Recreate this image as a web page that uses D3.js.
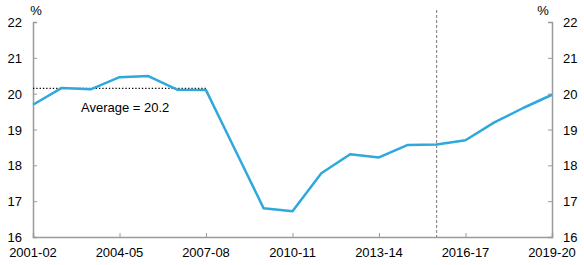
<!DOCTYPE html>
<html>
<head>
<meta charset="utf-8">
<script src="https://cdn.jsdelivr.net/npm/d3@7"></script>
<style>
  body { margin: 0; background: #fff; }
  svg text { font-family: "Liberation Sans", Arial, sans-serif; font-size: 13px; fill: #000; }
</style>
</head>
<body>
<div id="container"></div>
<script>
/* DATA */
const years = ["2001-02","2002-03","2003-04","2004-05","2005-06","2006-07","2007-08","2008-09","2009-10",
  "2010-11","2011-12","2012-13","2013-14","2014-15","2015-16","2016-17","2017-18","2018-19","2019-20"];
const values = [19.69, 20.16, 20.12, 20.46, 20.49, 20.11, 20.1, 18.45, 16.8,
  16.72, 17.78, 18.31, 18.22, 18.57, 18.58, 18.7, 19.2, 19.6, 19.97];
const tickYears = ["2001-02","2004-05","2007-08","2010-11","2013-14","2016-17","2019-20"];
const yTicks = [16, 17, 18, 19, 20, 21, 22];
const avgValue = 20.15;
const avgStart = "2001-02", avgEnd = "2007-08";
const avgLabel = "Average = 20.2";
const forecastStart = "2015-16";

/* CONSTANTS */
const width = 584, height = 265,
  margin = { top: 22, bottom: 28, left: 33, right: 32 };

const svg = d3.select("#container").append("svg")
  .attr("width", width).attr("height", height);

/* SCALES */
const xScale = d3.scalePoint().domain(years).range([margin.left, width - margin.right]);
const yScale = d3.scaleLinear().domain([16, 22]).range([height - margin.bottom, margin.top]);

const axisColor = "#9a9a9a";

// left axis
const yLeft = svg.append("g")
  .attr("transform", `translate(${margin.left},0)`)
  .call(d3.axisRight(yScale).tickValues(yTicks).tickSize(4).tickFormat(""));
// right axis
const yRight = svg.append("g")
  .attr("transform", `translate(${width - margin.right},0)`)
  .call(d3.axisLeft(yScale).tickValues(yTicks).tickSize(4).tickFormat(""));
// bottom axis
const xAx = svg.append("g")
  .attr("transform", `translate(0,${height - margin.bottom})`)
  .call(d3.axisTop(xScale).tickValues(tickYears).tickSize(4).tickFormat(""));

[yLeft, yRight, xAx].forEach(g => {
  g.select(".domain").attr("stroke", axisColor).attr("stroke-width", 1.5);
  g.selectAll(".tick line").attr("stroke", axisColor);
});

// tick labels
svg.selectAll(".ylabL").data(yTicks).join("text")
  .attr("x", margin.left - 11).attr("y", d => yScale(d) + 5)
  .attr("text-anchor", "end").text(d => d);
svg.selectAll(".ylabR").data(yTicks).join("text")
  .attr("x", width - margin.right + 11).attr("y", d => yScale(d) + 5)
  .attr("text-anchor", "start").text(d => d);
svg.selectAll(".xlab").data(tickYears).join("text")
  .attr("x", d => xScale(d)).attr("y", height - 8)
  .attr("text-anchor", "middle").text(d => d);

svg.append("text").attr("x", margin.left + 3).attr("y", 15).attr("text-anchor", "middle").text("%");
svg.append("text").attr("x", width - margin.right - 9).attr("y", 15).attr("text-anchor", "middle").text("%");

// forecast divider
svg.append("line")
  .attr("x1", xScale(forecastStart)).attr("x2", xScale(forecastStart))
  .attr("y1", 10).attr("y2", yScale(16))
  .attr("stroke", "#555").attr("stroke-width", 0.8).attr("stroke-dasharray", "3,2");

// average line
svg.append("line")
  .attr("x1", xScale(avgStart)).attr("x2", xScale(avgEnd))
  .attr("y1", yScale(avgValue)).attr("y2", yScale(avgValue))
  .attr("stroke", "#000").attr("stroke-width", 1.3).attr("stroke-dasharray", "1.3,2");
svg.append("text").attr("x", 81).attr("y", 112).text(avgLabel);

// series line
const line = d3.line().x((d, i) => xScale(years[i])).y(d => yScale(d));
svg.append("path").datum(values)
  .attr("d", line).attr("fill", "none")
  .attr("stroke", "#2fa8dc").attr("stroke-width", 2.5)
  .attr("stroke-linejoin", "round");
</script>
</body>
</html>
